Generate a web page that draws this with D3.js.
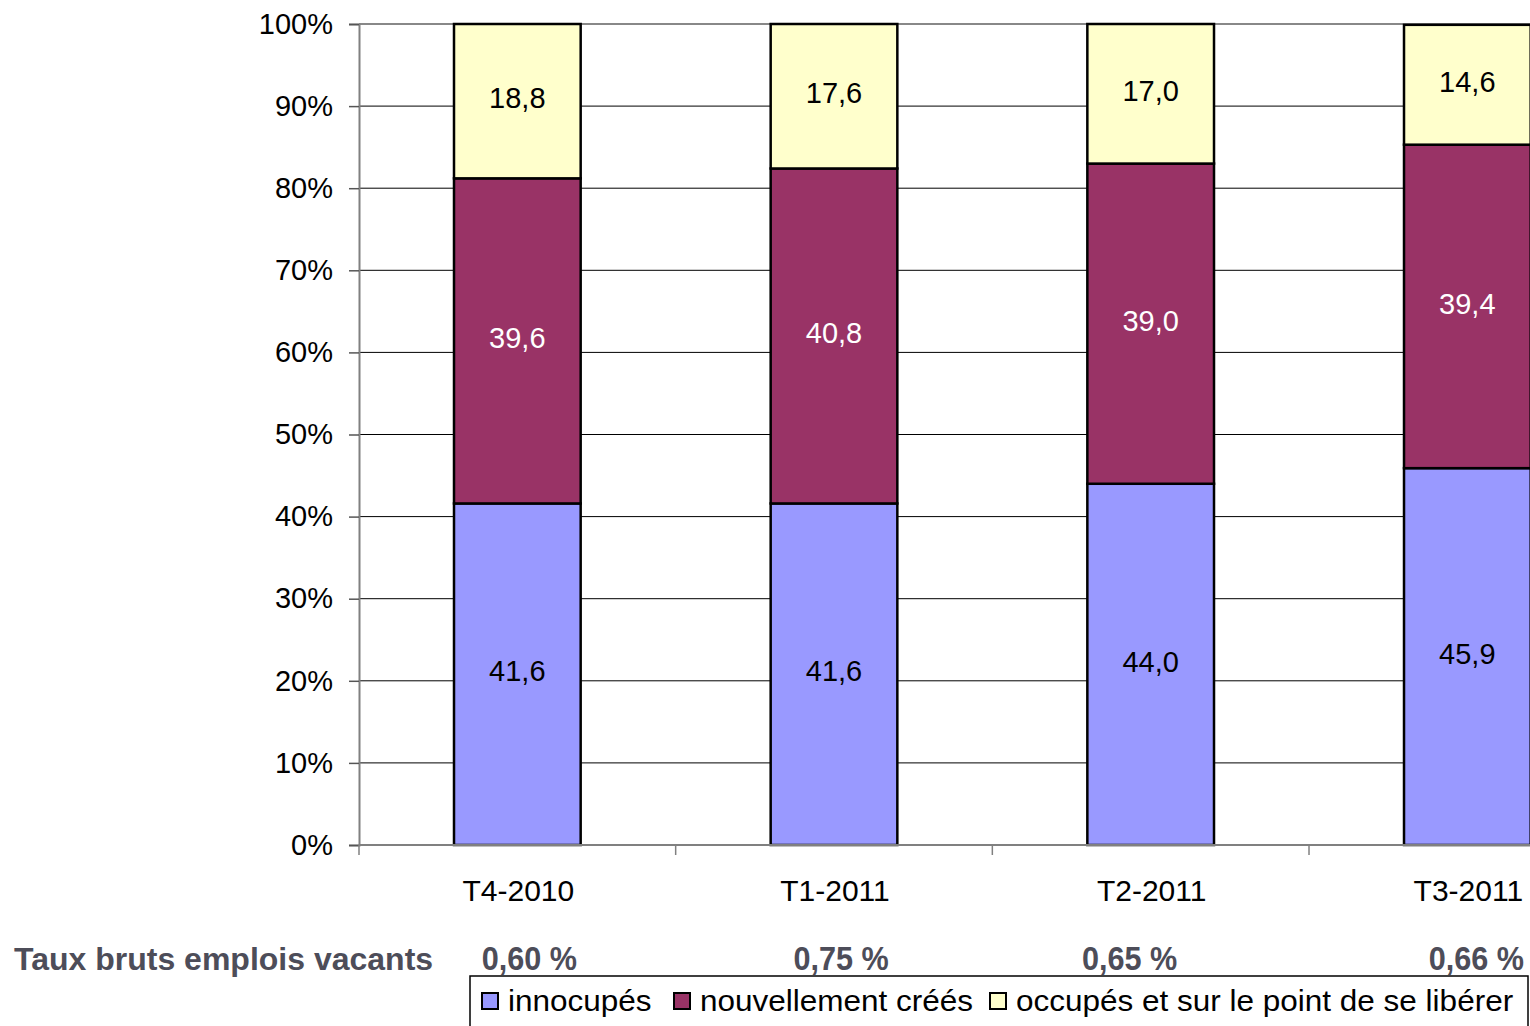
<!doctype html>
<html>
<head>
<meta charset="utf-8">
<script src="https://d3js.org/d3.v7.min.js"></script>
<style>
  body { margin: 0; background: #fff; }
  svg text { font-family: "Liberation Sans", Arial, sans-serif; }
</style>
</head>
<body>
<script>
// data
var trimestres = ["T4-2010", "T1-2011", "T2-2011", "T3-2011"];
var innocupes = [41.6, 41.6, 44.0, 45.9];
var nouveaux = [39.6, 40.8, 39.0, 39.4];
var occupes = [18.8, 17.6, 17.0, 14.6];
var tauxBruts = ["0,60 %", "0,75 %", "0,65 %", "0,66 %"];
var series = ["innocupés", "nouvellement créés", "occupés et sur le point de se libérer"];
var yTicks = [0, 10, 20, 30, 40, 50, 60, 70, 80, 90, 100];

var colors = ["#9999ff", "#993366", "#ffffcc"];
var labelColors = ["#000", "#fff", "#000"];

var width = 1530, height = 1026;
var plotLeft = 359, plotTop = 24, plotBottom = 845;
var step = 316.67;

var svg = d3.select("body").append("svg")
    .attr("width", width)
    .attr("height", height);

var x = d3.scaleBand()
    .domain(trimestres)
    .range([plotLeft, plotLeft + step * trimestres.length])
    .paddingInner(0.6)
    .paddingOuter(0.3);

var y = d3.scaleLinear().domain([0, 100]).range([plotBottom, plotTop]);

// horizontal grid lines
svg.selectAll("line.grid")
    .data(yTicks.filter(function(d) { return d > 0; }))
    .enter().append("line")
    .attr("class", "grid")
    .attr("x1", plotLeft).attr("x2", width)
    .attr("y1", function(d) { return y(d); })
    .attr("y2", function(d) { return y(d); })
    .attr("stroke", function(d) { return d == 100 ? "#888" : "#000"; })
    .attr("stroke-width", function(d) { return d == 100 ? 2 : 1; });

// y axis
var yAxis = svg.append("g")
    .attr("transform", "translate(" + plotLeft + ",0)")
    .call(d3.axisLeft(y).tickValues(yTicks).tickSize(10).tickPadding(16)
        .tickFormat(function(d) { return d + "%"; }));
yAxis.select(".domain").attr("stroke", "#808080").attr("stroke-width", 2);
yAxis.selectAll(".tick line").attr("stroke", "#555").attr("stroke-width", 1.5);
yAxis.selectAll("text")
    .attr("font-size", 29)
    .attr("font-family", "Liberation Sans, Arial, sans-serif")
    .attr("fill", "#000");

// stacked data
var rows = trimestres.map(function(t, i) {
    return { t: t, v: [innocupes[i], nouveaux[i], occupes[i]] };
});

var groups = svg.selectAll("g.bar")
    .data(rows)
    .enter().append("g")
    .attr("class", "bar");

groups.each(function(d) {
    var g = d3.select(this);
    var base = 0;
    d.v.forEach(function(v, k) {
        var y0 = base, y1 = base + v;
        g.append("rect")
            .attr("x", x(d.t))
            .attr("width", x.bandwidth())
            .attr("y", y(y1))
            .attr("height", y(y0) - y(y1))
            .attr("fill", colors[k])
            .attr("stroke", "#000")
            .attr("stroke-width", 2.5);
        g.append("text")
            .attr("x", x(d.t) + x.bandwidth() / 2)
            .attr("y", y((y0 + y1) / 2))
            .attr("dy", "0.25em")
            .attr("text-anchor", "middle")
            .attr("font-size", 29)
            .attr("fill", labelColors[k])
            .text(v.toFixed(1).replace(".", ","));
        base = y1;
    });
});

// x axis
svg.append("line")
    .attr("x1", plotLeft).attr("x2", width)
    .attr("y1", plotBottom).attr("y2", plotBottom)
    .attr("stroke", "#808080").attr("stroke-width", 2);

svg.selectAll("line.xtick")
    .data(d3.range(trimestres.length))
    .enter().append("line")
    .attr("x1", function(i) { return plotLeft + i * step; })
    .attr("x2", function(i) { return plotLeft + i * step; })
    .attr("y1", plotBottom).attr("y2", plotBottom + 10)
    .attr("stroke", "#808080").attr("stroke-width", 1.5);

svg.selectAll("text.cat")
    .data(trimestres)
    .enter().append("text")
    .attr("x", function(d) { return x(d) + x.bandwidth() / 2 + 1; })
    .attr("y", 901)
    .attr("text-anchor", "middle")
    .attr("font-size", 30)
    .text(function(d) { return d; });

// taux bruts row
svg.append("text")
    .attr("x", 14).attr("y", 970)
    .attr("font-size", 32)
    .attr("font-weight", "bold")
    .attr("fill", "#4d4d59")
    .text("Taux bruts emplois vacants");

var tauxShift = [12, 7, -21, 9];
svg.selectAll("text.taux")
    .data(tauxBruts)
    .enter().append("text")
    .attr("transform", function(d, i) {
        var cx = x(trimestres[i]) + x.bandwidth() / 2 + tauxShift[i];
        return "translate(" + cx + ",970) scale(0.9,1)";
    })
    .attr("text-anchor", "middle")
    .attr("font-size", 34)
    .attr("font-weight", "bold")
    .attr("fill", "#4d4d59")
    .text(function(d) { return d; });

// legend
var legend = svg.append("g").attr("transform", "translate(470,976)");
legend.append("rect")
    .attr("x", 0).attr("y", 0)
    .attr("width", 1058).attr("height", 60)
    .attr("fill", "#fff").attr("stroke", "#000").attr("stroke-width", 1.5);

var legX = [12, 204, 520];
var item = legend.selectAll("g.item")
    .data(series)
    .enter().append("g")
    .attr("transform", function(d, i) { return "translate(" + legX[i] + ",0)"; });
item.append("rect")
    .attr("x", 0).attr("y", 17)
    .attr("width", 16).attr("height", 16)
    .attr("fill", function(d, i) { return colors[i]; })
    .attr("stroke", "#000").attr("stroke-width", 2);
item.append("text")
    .attr("transform", "translate(26,35) scale(1.05,1)")
    .attr("font-size", 30)
    .text(function(d) { return d; });
</script>
</body>
</html>
